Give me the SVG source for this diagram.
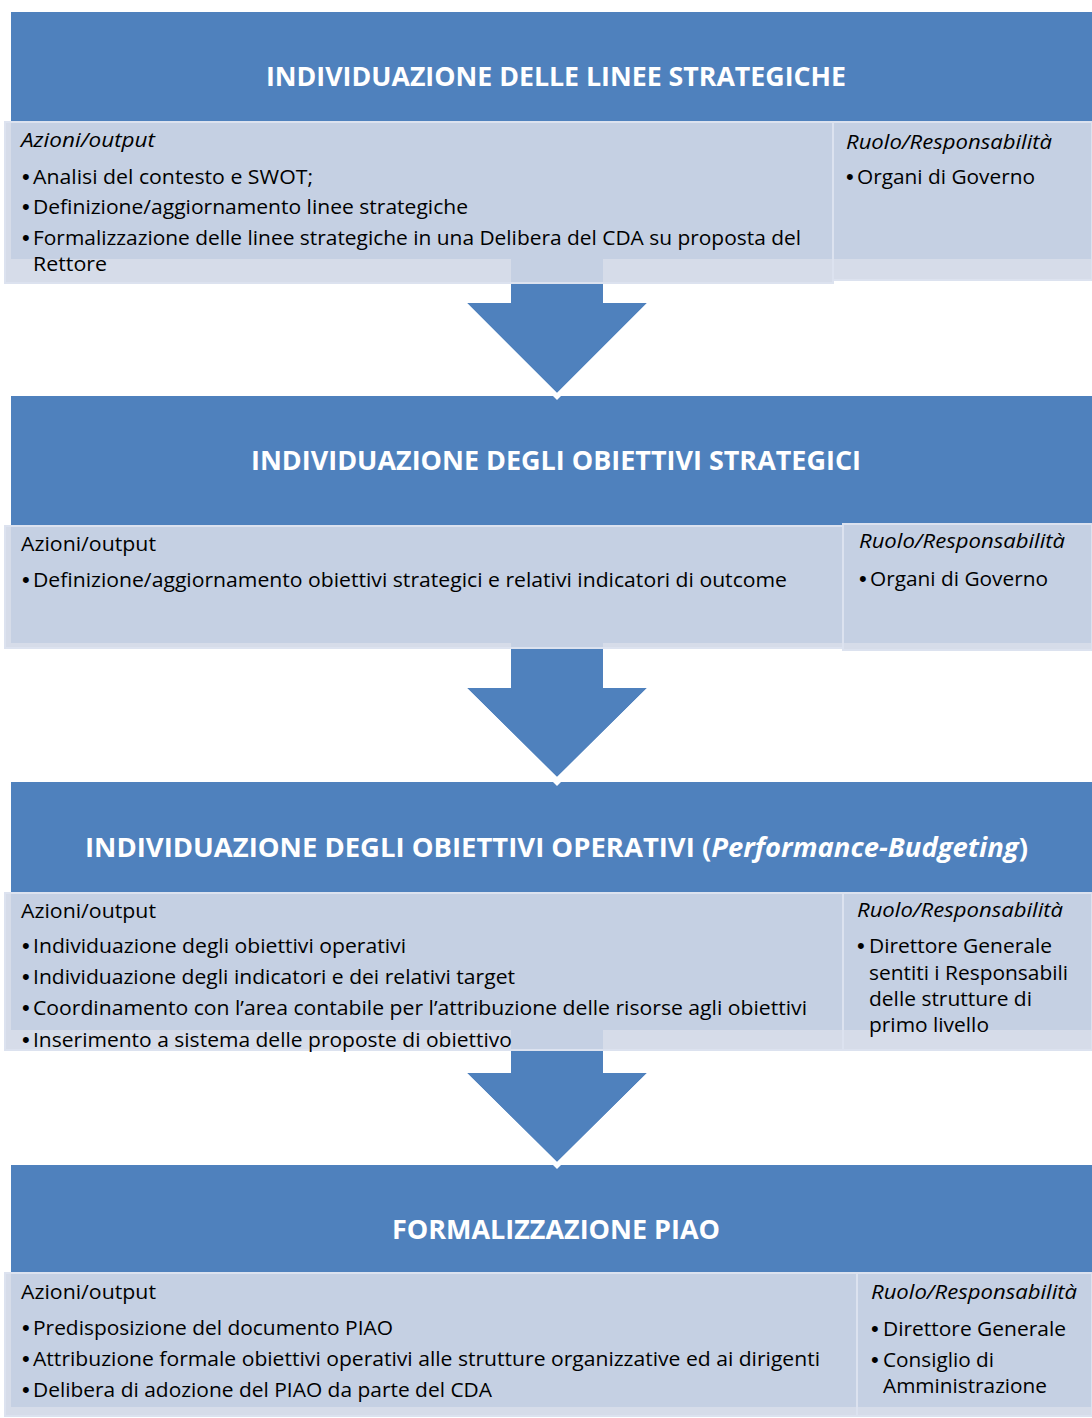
<svg xmlns="http://www.w3.org/2000/svg" width="1092" height="1418" viewBox="0 0 1092 1418">
<style>
.hdr{fill:#4F81BD}
.box{fill:#D2D8E7;fill-opacity:0.9;stroke:#DCE2EF;stroke-width:2}
.title{font-family:"Open Sans","Liberation Sans",sans-serif;font-weight:bold;font-size:26px;fill:#FFFFFF}
.t{font-family:"Open Sans","Liberation Sans",sans-serif;font-size:19.5px;fill:#000000}
.b{font-family:"Liberation Sans",sans-serif;font-size:22px;fill:#000000}
.i{font-style:italic}
.arrow{fill:#4F81BD}
.edge{fill:none;stroke:#FFFFFF;stroke-width:1.2}
</style>
<rect width="1092" height="1418" fill="#FFFFFF"/>

<g id="stage1-header">
<rect class="hdr" x="11" y="12" width="1081" height="247"/>
<text class="title" x="266" y="86" textLength="580" lengthAdjust="spacingAndGlyphs">INDIVIDUAZIONE DELLE LINEE STRATEGICHE</text>
</g>
<g id="stage2-header">
<rect class="hdr" x="11" y="396" width="1081" height="247"/>
<text class="title" x="251" y="470" textLength="610" lengthAdjust="spacingAndGlyphs">INDIVIDUAZIONE DEGLI OBIETTIVI STRATEGICI</text>
</g>
<g id="stage3-header">
<rect class="hdr" x="11" y="782" width="1081" height="248"/>
<text class="title" x="85" y="857" textLength="943" lengthAdjust="spacingAndGlyphs">INDIVIDUAZIONE DEGLI OBIETTIVI OPERATIVI (<tspan font-style="italic">Performance-Budgeting</tspan>)</text>
</g>
<g id="stage4-header">
<rect class="hdr" x="11" y="1165" width="1081" height="242"/>
<text class="title" x="392" y="1239" textLength="328" lengthAdjust="spacingAndGlyphs">FORMALIZZAZIONE PIAO</text>
</g>

<g id="connectors">
<polygon class="arrow" points="511,250 603,250 603,303 647,303 557,393 467,303 511,303"/>
<polyline class="edge" points="466,303 557,394 648,303"/>
<polygon fill="#FFFFFF" points="553,396 561,396 557,400"/>
<polygon class="arrow" points="511,636 603,636 603,688 647,688 557,777 467,688 511,688"/>
<polyline class="edge" points="466,688 557,778 648,688"/>
<polygon fill="#FFFFFF" points="553,782 561,782 557,786"/>
<polygon class="arrow" points="511,1022 603,1022 603,1073 647,1073 557,1162 467,1073 511,1073"/>
<polyline class="edge" points="466,1073 557,1163 648,1073"/>
<polygon fill="#FFFFFF" points="553,1165 561,1165 557,1169"/>
</g>

<g id="stage1-actions">
<rect class="box" x="5" y="122" width="828" height="161"/>
<text class="t i" x="21" y="147" textLength="134" lengthAdjust="spacingAndGlyphs">Azioni/output</text>
<text class="b" x="22" y="184">•</text>
<text class="t" x="33" y="184" textLength="280" lengthAdjust="spacingAndGlyphs">Analisi del contesto e SWOT;</text>
<text class="b" x="22" y="214">•</text>
<text class="t" x="33" y="214" textLength="435" lengthAdjust="spacingAndGlyphs">Definizione/aggiornamento linee strategiche</text>
<text class="b" x="22" y="245">•</text>
<text class="t" x="33" y="245" textLength="768" lengthAdjust="spacingAndGlyphs">Formalizzazione delle linee strategiche in una Delibera del CDA su proposta del</text>
<text class="t" x="33" y="271" textLength="74" lengthAdjust="spacingAndGlyphs">Rettore</text>
</g>
<g id="stage1-roles">
<rect class="box" x="833" y="122" width="259" height="158"/>
<text class="t i" x="846" y="149" textLength="206" lengthAdjust="spacingAndGlyphs">Ruolo/Responsabilità</text>
<text class="b" x="846" y="184">•</text>
<text class="t" x="857" y="184" textLength="178" lengthAdjust="spacingAndGlyphs">Organi di Governo</text>
</g>

<g id="stage2-actions">
<rect class="box" x="5" y="526" width="838" height="122"/>
<text class="t" x="21" y="551" textLength="135" lengthAdjust="spacingAndGlyphs">Azioni/output</text>
<text class="b" x="22" y="587">•</text>
<text class="t" x="33" y="587" textLength="754" lengthAdjust="spacingAndGlyphs">Definizione/aggiornamento obiettivi strategici e relativi indicatori di outcome</text>
</g>
<g id="stage2-roles">
<rect class="box" x="843" y="524" width="249" height="126"/>
<text class="t i" x="859" y="548" textLength="206" lengthAdjust="spacingAndGlyphs">Ruolo/Responsabilità</text>
<text class="b" x="859" y="586">•</text>
<text class="t" x="870" y="586" textLength="178" lengthAdjust="spacingAndGlyphs">Organi di Governo</text>
</g>

<g id="stage3-actions">
<rect class="box" x="5" y="893" width="838" height="157"/>
<text class="t" x="21" y="918" textLength="135" lengthAdjust="spacingAndGlyphs">Azioni/output</text>
<text class="b" x="22" y="953">•</text>
<text class="t" x="33" y="953" textLength="373" lengthAdjust="spacingAndGlyphs">Individuazione degli obiettivi operativi</text>
<text class="b" x="22" y="984">•</text>
<text class="t" x="33" y="984" textLength="482" lengthAdjust="spacingAndGlyphs">Individuazione degli indicatori e dei relativi target</text>
<text class="b" x="22" y="1015">•</text>
<text class="t" x="33" y="1015" textLength="774" lengthAdjust="spacingAndGlyphs">Coordinamento con l’area contabile per l’attribuzione delle risorse agli obiettivi</text>
<text class="b" x="22" y="1047">•</text>
<text class="t" x="33" y="1047" textLength="479" lengthAdjust="spacingAndGlyphs">Inserimento a sistema delle proposte di obiettivo</text>
</g>
<g id="stage3-roles">
<rect class="box" x="843" y="893" width="249" height="157"/>
<text class="t i" x="857" y="917" textLength="206" lengthAdjust="spacingAndGlyphs">Ruolo/Responsabilità</text>
<text class="b" x="857" y="953">•</text>
<text class="t" x="869" y="953" textLength="183" lengthAdjust="spacingAndGlyphs">Direttore Generale</text>
<text class="t" x="869" y="980" textLength="199" lengthAdjust="spacingAndGlyphs">sentiti i Responsabili</text>
<text class="t" x="869" y="1006" textLength="163" lengthAdjust="spacingAndGlyphs">delle strutture di</text>
<text class="t" x="869" y="1032" textLength="120" lengthAdjust="spacingAndGlyphs">primo livello</text>
</g>

<g id="stage4-actions">
<rect class="box" x="5" y="1273" width="852" height="143"/>
<text class="t" x="21" y="1299" textLength="135" lengthAdjust="spacingAndGlyphs">Azioni/output</text>
<text class="b" x="22" y="1335">•</text>
<text class="t" x="33" y="1335" textLength="360" lengthAdjust="spacingAndGlyphs">Predisposizione del documento PIAO</text>
<text class="b" x="22" y="1366">•</text>
<text class="t" x="33" y="1366" textLength="787" lengthAdjust="spacingAndGlyphs">Attribuzione formale obiettivi operativi alle strutture organizzative ed ai dirigenti</text>
<text class="b" x="22" y="1397">•</text>
<text class="t" x="33" y="1397" textLength="459" lengthAdjust="spacingAndGlyphs">Delibera di adozione del PIAO da parte del CDA</text>
</g>
<g id="stage4-roles">
<rect class="box" x="857" y="1273" width="235" height="143"/>
<text class="t i" x="871" y="1299" textLength="206" lengthAdjust="spacingAndGlyphs">Ruolo/Responsabilità</text>
<text class="b" x="871" y="1336">•</text>
<text class="t" x="883" y="1336" textLength="183" lengthAdjust="spacingAndGlyphs">Direttore Generale</text>
<text class="b" x="871" y="1367">•</text>
<text class="t" x="883" y="1367" textLength="111" lengthAdjust="spacingAndGlyphs">Consiglio di</text>
<text class="t" x="883" y="1393" textLength="164" lengthAdjust="spacingAndGlyphs">Amministrazione</text>
</g>
</svg>
